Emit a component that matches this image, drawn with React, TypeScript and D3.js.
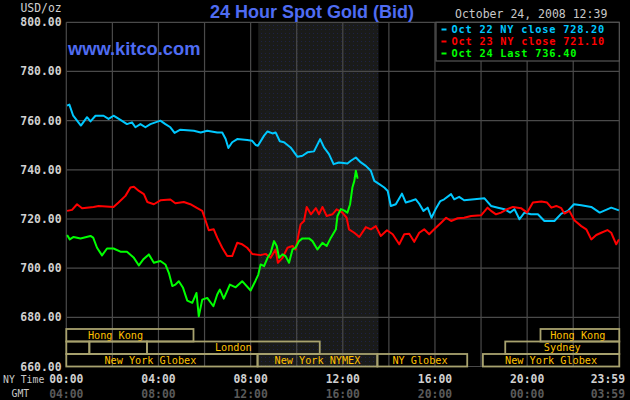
import React from "react";
import * as d3 from "d3";

// ---------- DATA ----------
const oct22: [string, number][] = [
  ["00:02", 766.1], ["00:08", 766.5], ["00:18", 762.0], ["00:38", 758.0], ["00:54", 761.4],
  ["01:03", 759.7], ["01:16", 762.0], ["01:37", 762.0], ["01:50", 760.7], ["02:03", 762.0],
  ["02:21", 760.3], ["02:38", 758.6], ["02:51", 759.3], ["03:00", 757.3], ["03:13", 758.6],
  ["03:26", 757.3], ["03:39", 758.6], ["04:05", 760.0], ["04:18", 758.6], ["04:31", 757.3],
  ["04:42", 755.0], ["04:57", 756.3], ["05:32", 755.9], ["05:50", 755.2], ["06:07", 755.9],
  ["06:33", 755.2], ["06:46", 755.2], ["06:55", 752.5], ["07:02", 748.9], ["07:12", 751.2],
  ["07:25", 752.5], ["07:51", 752.1], ["08:04", 751.8], ["08:13", 750.1], ["08:19", 749.8],
  ["08:35", 753.9], ["08:44", 755.6], ["08:57", 754.8], ["09:05", 755.2], ["09:16", 751.6],
  ["09:27", 751.2], ["09:44", 749.1], ["10:02", 745.3], ["10:15", 745.7], ["10:28", 747.1],
  ["10:45", 747.5], ["11:01", 752.5], ["11:11", 749.1], ["11:24", 746.4], ["11:36", 742.3],
  ["11:50", 743.0], ["12:12", 742.6], ["12:21", 743.7], ["12:34", 745.0], ["12:47", 743.0],
  ["13:00", 741.6], ["13:13", 739.6], ["13:22", 735.5], ["13:35", 734.2], ["13:48", 732.8],
  ["13:57", 731.4], ["14:05", 725.3], ["14:18", 726.0], ["14:34", 730.3], ["14:44", 726.7],
  ["14:57", 727.3], ["15:10", 728.0], ["15:19", 726.2], ["15:30", 723.3], ["15:41", 724.6],
  ["15:51", 720.5], ["16:03", 724.4], ["16:14", 727.3], ["16:24", 728.0], ["16:42", 730.1],
  ["16:50", 728.0], ["17:03", 729.0], ["17:16", 727.6], ["18:09", 728.4], ["18:26", 725.3],
  ["18:44", 724.6], ["19:01", 724.0], ["19:16", 722.6], ["19:27", 724.0], ["19:40", 719.9],
  ["19:53", 722.6], ["20:10", 721.9], ["20:28", 721.9], ["20:45", 719.2], ["21:11", 719.2],
  ["21:29", 722.2], ["21:46", 723.3], ["22:02", 726.0], ["22:21", 725.6], ["22:47", 724.9],
  ["23:09", 722.6], ["23:39", 724.6], ["23:59", 723.5],
];

const oct23: [string, number][] = [
  ["00:02", 723.3], ["00:15", 723.7], ["00:28", 726.0], ["00:41", 724.4], ["01:11", 724.9],
  ["01:24", 725.3], ["02:03", 724.9], ["02:16", 726.7], ["02:34", 729.4], ["02:47", 732.8],
  ["02:56", 733.1], ["03:09", 731.4], ["03:22", 730.1], ["03:31", 726.9], ["03:48", 726.0],
  ["04:05", 727.6], ["04:31", 727.9], ["04:44", 726.4], ["05:06", 726.9], ["05:23", 726.0],
  ["05:41", 724.4], ["05:54", 723.3], ["06:03", 719.2], ["06:11", 715.4], ["06:24", 715.8],
  ["06:33", 712.4], ["06:46", 708.3], ["06:59", 704.9], ["07:12", 704.9], ["07:25", 710.3],
  ["07:38", 709.7], ["07:51", 708.3], ["08:04", 705.8], ["08:26", 705.3], ["08:39", 705.8],
  ["08:52", 704.2], ["09:05", 707.6], ["09:11", 702.2], ["09:23", 704.2], ["09:36", 708.3],
  ["09:49", 709.0], ["09:57", 707.6], ["10:10", 717.8], ["10:19", 719.2], ["10:26", 724.9],
  ["10:37", 721.9], ["10:50", 724.4], ["10:58", 721.9], ["11:07", 724.9], ["11:18", 721.2],
  ["11:33", 721.9], ["11:44", 723.9], ["11:59", 722.6], ["12:10", 720.5], ["12:16", 715.8],
  ["12:30", 714.4], ["12:43", 712.7], ["13:00", 716.7], ["13:13", 715.8], ["13:26", 717.1],
  ["13:39", 713.1], ["13:55", 715.4], ["14:10", 713.8], ["14:27", 709.7], ["14:40", 713.8],
  ["14:53", 714.0], ["15:06", 710.7], ["15:19", 714.4], ["15:32", 715.8], ["15:45", 713.8],
  ["15:58", 715.8], ["16:16", 718.5], ["16:29", 720.5], ["16:42", 719.2], ["16:59", 720.3],
  ["17:16", 720.5], ["17:34", 721.2], ["18:00", 721.5], ["18:17", 724.6], ["18:26", 723.3],
  ["18:39", 721.9], ["18:52", 722.6], ["19:08", 724.0], ["19:23", 724.9], ["19:44", 724.4],
  ["20:00", 722.6], ["20:15", 726.7], ["20:37", 727.1], ["20:52", 726.7], ["21:03", 724.6],
  ["21:16", 725.3], ["21:29", 724.4], ["21:37", 722.2], ["21:50", 723.3], ["22:03", 719.5],
  ["22:21", 717.1], ["22:34", 715.8], ["22:47", 711.7], ["23:00", 713.5], ["23:13", 714.4],
  ["23:29", 715.5], ["23:39", 714.4], ["23:52", 709.7], ["23:59", 711.7],
];

const oct24: [string, number][] = [
  ["00:02", 713.5], ["00:09", 711.7], ["00:19", 712.7], ["00:37", 712.1], ["01:03", 713.1],
  ["01:10", 712.4], ["01:20", 708.3], ["01:33", 705.2], ["01:46", 708.0], ["02:03", 708.0],
  ["02:21", 706.7], ["02:38", 706.7], ["02:56", 704.2], ["03:09", 701.1], ["03:20", 703.5],
  ["03:35", 705.6], ["03:48", 702.2], ["04:05", 702.9], ["04:18", 701.5], ["04:27", 698.1],
  ["04:36", 692.7], ["04:44", 693.3], ["04:53", 694.7], ["05:04", 692.0], ["05:15", 686.8],
  ["05:28", 685.9], ["05:39", 689.9], ["05:45", 680.4], ["05:54", 687.2], ["06:07", 687.9],
  ["06:23", 684.5], ["06:33", 689.3], ["06:40", 691.3], ["06:50", 687.6], ["07:06", 693.3],
  ["07:21", 692.2], ["07:38", 694.7], ["08:00", 690.9], ["08:13", 695.0], ["08:20", 697.4],
  ["08:26", 701.5], ["08:35", 700.8], ["08:44", 704.2], ["08:52", 706.2], ["09:01", 711.0],
  ["09:08", 709.0], ["09:14", 704.2], ["09:23", 705.6], ["09:31", 704.9], ["09:40", 702.2],
  ["09:49", 707.6], ["09:57", 708.3], ["10:06", 711.0], ["10:15", 712.1], ["10:32", 712.1],
  ["10:41", 711.0], ["10:54", 707.6], ["11:07", 710.3], ["11:18", 709.0], ["11:29", 712.4],
  ["11:42", 715.8], ["11:46", 721.2], ["11:55", 724.0], ["12:03", 723.5], ["12:12", 722.6],
  ["12:19", 726.0], ["12:25", 732.8], ["12:30", 735.5], ["12:34", 739.6], ["12:38", 736.9],
  ["12:39", 736.4],
];

const yTicks = [800, 780, 760, 740, 720, 700, 680, 660];
const nyTimeHours = [0, 4, 8, 12, 16, 20, 24];
const nyTimeLabels = ["00:00", "04:00", "08:00", "12:00", "16:00", "20:00", "23:59"];
const gmtLabels = ["04:00", "08:00", "12:00", "16:00", "20:00", "00:00", "03:59"];

const sessionRow = [0, 0, 1, 1, 1, 1, 2, 2, 2, 2];
const sessionStart = [0, 20.58, 0, 1, 3.5, 19.05, 0, 8.3, 13.5, 18.08];
const sessionEnd = [5.52, 24, 1, 3.5, 11, 24, 8.3, 13.5, 17.4, 24];
const sessionLabelFrom = [-1.25, 20.4, 0, 1, 3.5, 19.05, -1.0, 8.3, 13.3, 18.08];
const sessionLabel = ["Hong Kong", "Hong Kong", "", "", "London", "Sydney", "New York Globex", "New York NYMEX", "NY Globex", "New York Globex"];

const nymexStart = 8.33;
const nymexEnd = 13.55;

const legendLabels = ["Oct 22 NY close 728.20", "Oct 23 NY close 721.10", "Oct 24 Last 736.40"];
const seriesColors = ["#00c8ff", "#ff0000", "#00ff00"];

// ---------- CHART ----------
const W = 630, H = 400;
const left = 66.3, right = 619.3, top = 22.3, bottom = 366.5;

const parseHM = (s: string) => {
  const [h, m] = s.split(":").map(Number);
  return h + m / 60;
};

export default function App() {
  const x = d3.scaleLinear().domain([0, 24]).range([left, right]);
  const y = d3.scaleLinear().domain([660, 800]).range([bottom, top]);
  const rowY = d3.scaleBand<number>().domain([0, 1, 2]).range([329, bottom]);

  const line = d3
    .line<[string, number]>()
    .x((d) => x(parseHM(d[0])))
    .y((d) => y(d[1]));

  const series = [oct22, oct23, oct24];
  const xGrid = d3.range(0, 25, 2);
  const mono = "'DejaVu Sans Mono', 'Liberation Mono', monospace";
  const sans = "'Liberation Sans', Arial, sans-serif";

  const lastIdx = nyTimeHours.length - 1;

  return (
    <svg width={W} height={H} style={{ position: "absolute", left: 0, top: 0, background: "#000" }}>
      <defs>
        <pattern id="dots" width="4" height="4" patternUnits="userSpaceOnUse">
          <rect width="4" height="4" fill="#1a1b1a" />
          <rect x="1" y="1" width="1" height="1" fill="#1e2246" />
        </pattern>
      </defs>
      <rect width={W} height={H} fill="#000" />
      <rect
        x={x(nymexStart)}
        y={top}
        width={x(nymexEnd) - x(nymexStart)}
        height={bottom - top}
        fill="url(#dots)"
      />
      {/* grid */}
      {yTicks.map((t) => (
        <line key={"gy" + t} x1={left} x2={right} y1={y(t)} y2={y(t)} stroke="#4a4a4a" strokeWidth={1.2} />
      ))}
      {xGrid.map((h) => (
        <line key={"gx" + h} x1={x(h)} x2={x(h)} y1={top} y2={bottom} stroke="#4a4a4a" strokeWidth={1.2} />
      ))}
      {/* sessions */}
      {sessionRow.map((r, i) => {
        const x0 = x(sessionStart[i]);
        const x1 = x(sessionEnd[i]);
        const ry = rowY(r)!;
        const bh = rowY.bandwidth();
        const cx = (x(sessionLabelFrom[i]) + x1) / 2;
        return (
          <g key={"s" + i}>
            <rect x={x0} y={ry} width={x1 - x0} height={bh} fill="none" stroke="#a8a26e" strokeWidth={1.8} />
            {sessionLabel[i] && (
              <text x={cx} y={ry + bh - 2.6} fill="#ffc000" fontFamily={mono} fontSize={10.2} textAnchor="middle">
                {sessionLabel[i]}
              </text>
            )}
          </g>
        );
      })}
      {/* series */}
      {series.map((s, i) => (
        <path key={"l" + i} d={line(s) || ""} fill="none" stroke={seriesColors[i]} strokeWidth={2} strokeLinejoin="round" />
      ))}
      {/* legend */}
      <rect x={436} y={top} width={right - 436} height={61 - top} fill="#000" stroke="#555" strokeWidth={1.2} />
      {legendLabels.map((l, i) => (
        <g key={"lg" + i}>
          <rect x={441.5} y={28.5 + i * 12} width={5} height={2} fill={seriesColors[i]} />
          <text x={451.5} y={33.3 + i * 12} fill={seriesColors[i]} fontFamily={mono} fontWeight="bold" fontSize={10.3} letterSpacing={0.78}>
            {l}
          </text>
        </g>
      ))}
      {/* axes labels */}
      {yTicks.map((t) => (
        <text key={"yl" + t} x={61.5} y={y(t)} textAnchor="end" dominantBaseline="central" fill="#d0d0d0" fontFamily={mono} fontWeight="bold" fontSize={11.4}>
          {t.toFixed(2)}
        </text>
      ))}
      {nyTimeHours.map((h, i) => {
        const isLast = i === lastIdx;
        const lx = isLast ? 625 : x(h);
        const anchor = isLast ? "end" : "middle";
        return (
          <g key={"xl" + h}>
            <text x={lx} y={379} textAnchor={anchor} dominantBaseline="central" fill="#d0d0d0" fontFamily={mono} fontWeight="bold" fontSize={11.4}>
              {nyTimeLabels[i]}
            </text>
            <text x={lx} y={393.5} textAnchor={anchor} dominantBaseline="central" fill="#5a5a5a" fontFamily={mono} fontWeight="bold" fontSize={11.4}>
              {gmtLabels[i]}
            </text>
          </g>
        );
      })}
      <text x={3} y={379.5} dominantBaseline="central" fill="#c8c8c8" fontFamily={mono} fontSize={9.8}>NY Time</text>
      <text x={11.5} y={393} dominantBaseline="central" fill="#c8c8c8" fontFamily={mono} fontSize={9.8}>GMT</text>
      <text x={20.5} y={12} fill="#d0d0d0" fontFamily={mono} fontSize={11.4}>USD/oz</text>
      <text x={210} y={18} fill="#4f6cf2" fontFamily={sans} fontWeight="bold" fontSize={18}>24 Hour Spot Gold (Bid)</text>
      <text x={68} y={55} fill="#4f6cf2" fontFamily={sans} fontWeight="bold" fontSize={18.3}>www.kitco.com</text>
      <text x={455} y={18} fill="#c8c8c8" fontFamily={mono} fontSize={11.5}>October 24, 2008 12:39</text>
    </svg>
  );
}
